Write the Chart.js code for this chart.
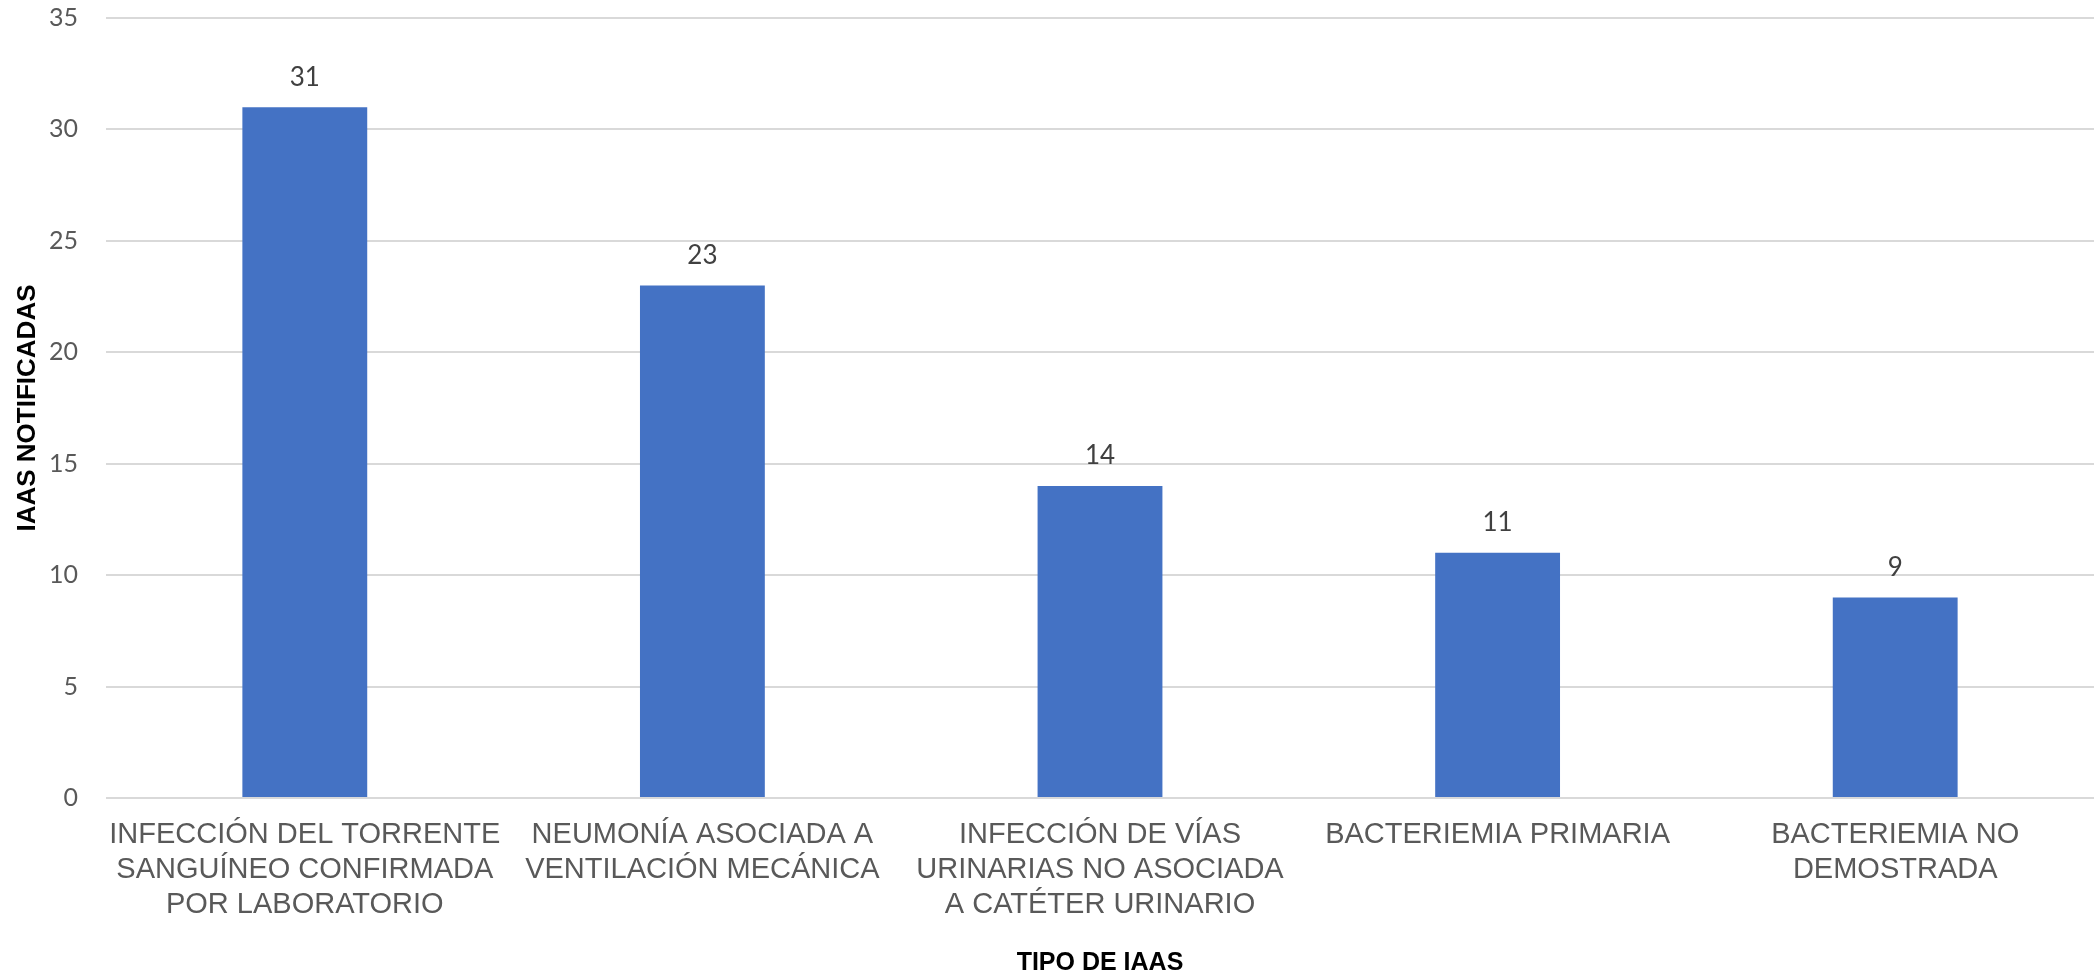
<!DOCTYPE html>
<html lang="es">
<head>
<meta charset="utf-8">
<title>IAAS notificadas</title>
<script src="https://cdn.jsdelivr.net/npm/chart.js@4/dist/chart.umd.min.js"></script>
<style>
  html, body { margin: 0; padding: 0; background: #ffffff; }
  .chart-box { width: 2094px; height: 973px; position: relative; }
</style>
</head>
<body>
<div class="chart-box">
  <canvas id="iaas-chart"></canvas>
</div>
<script>
// Datos del gráfico
const categories = [
  ['INFECCIÓN DEL TORRENTE', 'SANGUÍNEO CONFIRMADA', 'POR LABORATORIO'],
  ['NEUMONÍA ASOCIADA A', 'VENTILACIÓN MECÁNICA'],
  ['INFECCIÓN DE VÍAS', 'URINARIAS NO ASOCIADA', 'A CATÉTER URINARIO'],
  ['BACTERIEMIA PRIMARIA'],
  ['BACTERIEMIA NO', 'DEMOSTRADA'],
];
const iaasValues = [31, 23, 14, 11, 9];
const yTicks = [0, 5, 10, 15, 20, 25, 30, 35];
const xTitle = 'TIPO DE IAAS';
const yTitle = 'IAAS NOTIFICADAS';

// Plugin para escribir el valor encima de cada barra
const barValueLabels = {
  id: 'barValueLabels',
  afterDatasetsDraw(chart, args, options) {
    const { ctx } = chart;
    ctx.save();
    ctx.font = options.font;
    ctx.fillStyle = options.color;
    ctx.textAlign = 'center';
    ctx.textBaseline = 'middle';
    chart.data.datasets.forEach((ds, i) => {
      const meta = chart.getDatasetMeta(i);
      meta.data.forEach((bar, j) => {
        ctx.fillText(String(ds.data[j]), bar.x, bar.y - options.offset);
      });
    });
    ctx.restore();
  },
};

const tickFont = { family: 'Lato, "Liberation Sans", sans-serif', size: 25 };
const labelFont = { family: '"Liberation Sans", Arial, sans-serif', size: 29, lineHeight: 1.2 };

new Chart(document.getElementById('iaas-chart'), {
  type: 'bar',
  data: {
    labels: categories,
    datasets: [{
      data: iaasValues,
      backgroundColor: '#4472C4',
      borderWidth: 0,
      categoryPercentage: 1,
      barPercentage: 0.314,
    }],
  },
  options: {
    responsive: true,
    maintainAspectRatio: false,
    animation: false,
    layout: { padding: { top: 18, right: 0, bottom: 0, left: 0 } },
    plugins: {
      legend: { display: false },
      tooltip: { enabled: false },
      barValueLabels: {
        font: '26px Lato, "Liberation Sans", sans-serif',
        color: '#404040',
        offset: 30,
      },
    },
    scales: {
      x: {
        grid: { display: false, drawTicks: false },
        border: { display: false },
        ticks: {
          color: '#595959',
          font: labelFont,
          padding: 20,
          autoSkip: false,
          maxRotation: 0,
          minRotation: 0,
        },
        title: {
          display: true,
          text: xTitle,
          color: '#000000',
          font: { family: '"Liberation Sans", Arial, sans-serif', size: 25, weight: 'bold' },
          padding: { top: 0, bottom: -5 },
        },
        afterFit: (scale) => { scale.height = 175; },
      },
      y: {
        min: 0,
        max: 35,
        afterBuildTicks: (scale) => {
          scale.ticks = yTicks.map((v) => ({ value: v }));
        },
        grid: { color: '#d9d9d9', lineWidth: 2, drawTicks: false },
        border: { display: false },
        ticks: {
          color: '#595959',
          font: tickFont,
          padding: 28,
        },
        title: {
          display: true,
          text: yTitle,
          color: '#000000',
          font: { family: '"Liberation Sans", Arial, sans-serif', size: 26, weight: 'bold' },
          padding: { top: 12, bottom: 0 },
        },
        afterFit: (scale) => {
          scale.width = 106;
          scale.paddingTop = 0;
          scale.paddingBottom = 0;
        },
      },
    },
  },
  plugins: [barValueLabels],
});
</script>
</body>
</html>
